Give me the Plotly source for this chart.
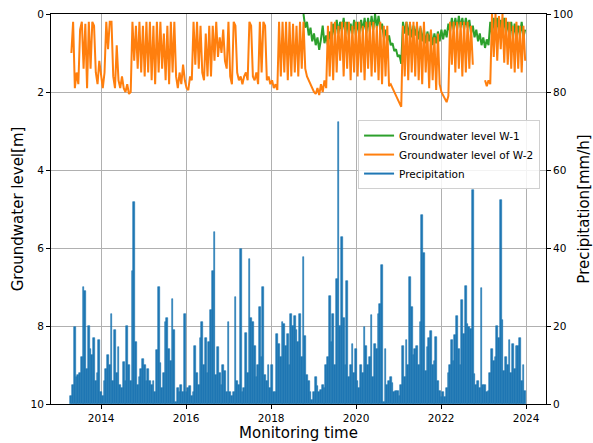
import pandas as pd
import plotly.graph_objects as go

# 15-day sampling grid, starting 2013-04-20
start_date = "2013-04-20"
step_days = 15

precipitation = [
    2, 5, 19.7, 7, 7.5, 8, 12, 30, 29, 9,
    20, 14, 12.6, 17, 6, 8, 16.4, 3, 2, 6,
    9, 12.6, 10, 23, 6, 19, 8, 14.5, 5, 4,
    10.8, 6, 20, 10, 6, 34, 51.7, 16, 5, 7,
    9, 11.6, 10, 6, 9, 6, 5, 6, 3, 13.8,
    30, 10.5, 4, 8, 21, 22, 14, 11, 27, 19,
    0.5, 4, 3, 5, 3, 23, 3, 4, 4.5, 2,
    3, 15, 8, 5, 17, 21, 10, 17, 8, 16,
    24, 34, 44, 7.5, 14.5, 8, 5, 10, 8.5, 3,
    21, 3, 2, 3, 27.5, 6, 5, 39.7, 3, 4,
    18.3, 8, 37.2, 22, 21, 15, 7, 10, 25, 12,
    30, 7.5, 6, 10, 4, 10, 3, 3, 18, 15.5,
    12, 21, 20.5, 15, 18, 10, 23, 20, 22.5, 19,
    16, 23, 12, 37.6, 17.4, 7.5, 6, 3, 1, 3,
    7, 4.5, 3, 3.5, 5, 4, 10, 12, 27.6, 16,
    23, 10, 32, 72.2, 20, 42.7, 22, 10, 31.5, 7,
    10, 15.5, 8, 14, 6, 4, 10, 8, 19.8, 15,
    10, 12, 22.7, 7, 15.5, 14, 23, 25.6, 35.6, 0.6,
    14, 5, 6, 7, 5.5, 3, 3.4, 3.4, 2, 5,
    15, 7, 16.4, 10, 32.6, 25, 12.5, 14, 15, 10,
    21, 48.5, 38.7, 8.5, 14.5, 16.9, 18.7, 10, 11, 17.3,
    6, 3.4, 1.7, 3, 1.7, 4, 8, 10, 16.4, 11,
    17.6, 22.6, 14, 10, 26.7, 18, 30.2, 20.5, 19.7, 19.2,
    55, 7.8, 5, 6, 4, 29.7, 5, 5, 3, 3.4,
    8, 14, 11, 12, 19.9, 17, 52.3, 21.5, 8.5, 12,
    10, 16.4, 8, 15.5, 9, 15, 15, 17, 6, 10,
    3.4,
]

level_w2 = [
    1.0, 0.2, 1.9, 1.5, 1.8, 0.4, 0.2, 1.4, 0.25, 1.9,
    0.2, 1.4, 0.2, 0.3, 1.5, 1.8, 1.2, 1.6, 1.9, 1.5,
    0.2, 0.9, 0.2, 0.2, 1.6, 1.9, 0.8, 1.7, 1.9, 1.6,
    1.9, 2.0, 1.8, 2.05, 2.0, 0.2, 1.2, 0.3, 1.4, 0.2,
    1.5, 0.3, 1.6, 0.2, 1.5, 0.2, 1.7, 0.3, 1.8, 0.2,
    1.5, 0.2, 1.4, 0.5, 1.7, 0.3, 1.8, 0.2, 1.5, 0.2,
    1.6, 1.9, 1.5, 1.8, 1.3, 1.7, 1.9, 1.95, 1.6, 1.7,
    0.2, 1.3, 0.2, 1.4, 0.3, 1.5, 1.7, 0.5, 1.6, 0.3,
    1.6, 0.3, 1.2, 0.2, 1.1, 0.6, 1.0, 0.4, 1.2, 1.4,
    0.2, 1.6, 1.8, 0.2, 0.3, 1.5, 1.7, 1.6, 1.8, 1.6,
    1.5, 1.7, 0.2, 0.3, 1.6, 1.7, 1.5, 1.8, 0.2, 1.5,
    0.2, 0.3, 1.7, 1.6, 1.8, 1.7, 1.9, 1.8, 1.95, 0.2,
    1.6, 0.2, 1.5, 0.2, 1.7, 0.2, 1.6, 0.25, 1.5, 0.3,
    1.6, 0.2, 1.4, 0.2, 1.4, 1.6, 1.7, 1.8, 1.9, 2.0,
    2.05, 1.9, 2.08, 1.8, 2.0, 1.7, 1.9, 0.3, 1.6, 0.2,
    1.7, 0.2, 1.5, 0.3, 1.2, 0.2, 1.6, 0.2, 1.4, 0.2,
    1.7, 0.3, 1.5, 0.2, 1.6, 0.2, 1.5, 0.3, 1.7, 0.2,
    1.4, 0.2, 1.6, 0.2, 1.5, 0.3, 1.7, 0.2, 1.8, 0.3,
    1.6, 0.3, 1.85, 1.8, 1.9, 2.0, 2.1, 2.2, 2.3, 2.38,
    0.3, 1.6, 0.2, 1.7, 0.2, 1.5, 0.2, 1.6, 0.2, 1.7,
    0.3, 1.8, 0.2, 1.5, 0.5, 1.9, 0.4, 1.7, 0.6, 1.95,
    0.5, 1.8, 2.0, 2.1, 2.2, 2.26, 2.1, 0.2, 1.3, 0.2,
    1.5, 0.2, 1.4, 0.2, 1.6, 0.2, 1.5, 0.2, 1.4, 0.3,
    1.3, None, None, None, None, None, None, 1.7, 1.85, 1.7,
    1.8, 0.0, 1.1, 0.0, 1.2, 0.05, 0.9, 0.0, 1.25, 0.1,
    1.3, 0.2, 1.4, 0.3, 1.5, 0.2, 1.4, 0.3, 1.5, 0.3,
    1.2,
]

# W-1 starts at sample 133 of the grid
w1_start_index = 133
level_w1 = [
    0.0, 0.35, 0.2, 0.55, 0.35, 0.7, 0.5,
    0.8, 0.6, 0.92, 0.65, 0.3, 0.75, 0.55, 0.8, 0.45, 0.7,
    0.25, 0.55, 0.15, 0.5, 0.2, 0.45, 0.1, 0.5, 0.2, 0.55,
    0.25, 0.5, 0.15, 0.55, 0.2, 0.5, 0.15, 0.45, 0.1, 0.5,
    0.1, 0.45, 0.05, 0.4, 0.0, 0.35, 0.05, 0.4, 0.25, 0.6,
    0.4, 0.7, 0.55, 0.8, 0.75, 0.95, 0.9, 1.1, 1.05, 1.28,
    0.2, 0.5, 0.2, 0.55, 0.25, 0.6, 0.3, 0.55, 0.3, 0.65,
    0.35, 0.7, 0.4, 0.75, 0.45, 0.7, 0.45, 0.8, 0.5, 0.75,
    0.45, 0.7, 0.4, 0.65, 0.4, 0.6, 0.25, 0.45, 0.1, 0.4,
    0.1, 0.4, 0.05, 0.35, 0.1, 0.4, 0.1, 0.35, 0.15, 0.5,
    0.3, 0.6, 0.4, 0.7, 0.5, 0.8, 0.6, 0.87, 0.65, 0.8,
    0.2, 0.55, 0.1, 0.5, 0.1, 0.45, 0.15, 0.5, 0.1, 0.5,
    0.2, 0.55, 0.2, 0.6, 0.25, 0.6, 0.3, 0.55, 0.2, 0.6,
    0.4,
]

year_ticks = ["2014", "2016", "2018", "2020", "2022", "2024"]

dates = pd.date_range(start_date, periods=len(precipitation), freq=f"{step_days}D")
dates_w1 = dates[w1_start_index:w1_start_index + len(level_w1)]

GREEN = "#2ca02c"
ORANGE = "#ff7f0e"
BLUE = "#1f77b4"
FONT = "DejaVu Sans"

fig = go.Figure()

fig.add_trace(go.Bar(
    x=dates, y=precipitation, yaxis="y2",
    width=step_days * 86400000,
    marker=dict(color=BLUE, line=dict(width=0.6, color=BLUE)),
    showlegend=False, name="Precipitation",
))
fig.add_trace(go.Scatter(
    x=dates_w1, y=level_w1, mode="lines",
    line=dict(color=GREEN, width=2), name="Groundwater level W-1",
    legendrank=1,
))
fig.add_trace(go.Scatter(
    x=dates, y=level_w2, mode="lines", connectgaps=False,
    line=dict(color=ORANGE, width=2), name="Groundwater level of W-2",
    legendrank=2,
))
# legend entry for precipitation (line style, as in the reference)
fig.add_trace(go.Scatter(
    x=[None], y=[None], mode="lines", line=dict(color=BLUE, width=2),
    name="Precipitation", legendrank=3,
))

grid_color = "#b0b0b0"
fig.update_layout(
    width=593, height=443,
    margin=dict(l=51, r=47, t=14, b=39),
    paper_bgcolor="white", plot_bgcolor="white",
    font=dict(family=FONT, size=10.5, color="black"),
    bargap=0,
    legend=dict(
        x=0.988, y=0.728, xanchor="right", yanchor="top",
        bgcolor="rgba(255,255,255,0.85)", bordercolor="#d0d0d0", borderwidth=1,
        font=dict(size=10.5, family=FONT), tracegroupgap=0,
        itemwidth=30,
    ),
    xaxis=dict(
        type="date", automargin=False,
        range=["2012-10-27", "2024-06-20"],
        tickvals=[f"{y}-01-01" for y in year_ticks], ticktext=year_ticks,
        showgrid=True, gridcolor=grid_color, gridwidth=1,
        showline=True, linecolor="black", linewidth=1, mirror=True,
        ticks="outside", ticklen=4, tickcolor="black",
        title=dict(text="Monitoring time", font=dict(size=15, family=FONT), standoff=3),
        zeroline=False,
    ),
    yaxis=dict(
        automargin=False,
        range=[10, 0], tickvals=[0, 2, 4, 6, 8, 10],
        showgrid=True, gridcolor=grid_color, gridwidth=1,
        showline=True, linecolor="black", linewidth=1,
        ticks="outside", ticklen=4, tickcolor="black",
        title=dict(text="Groundwater level[m]", font=dict(size=15, family=FONT), standoff=3),
        zeroline=False,
    ),
    yaxis2=dict(
        automargin=False,
        range=[0, 100], tickvals=[0, 20, 40, 60, 80, 100],
        overlaying="y", side="right", showgrid=False,
        showline=True, linecolor="black", linewidth=1,
        ticks="outside", ticklen=4, tickcolor="black",
        title=dict(text="Precipitation[mm/h]", font=dict(size=15, family=FONT), standoff=6),
        zeroline=False,
    ),
)

fig.write_html("out.html")
